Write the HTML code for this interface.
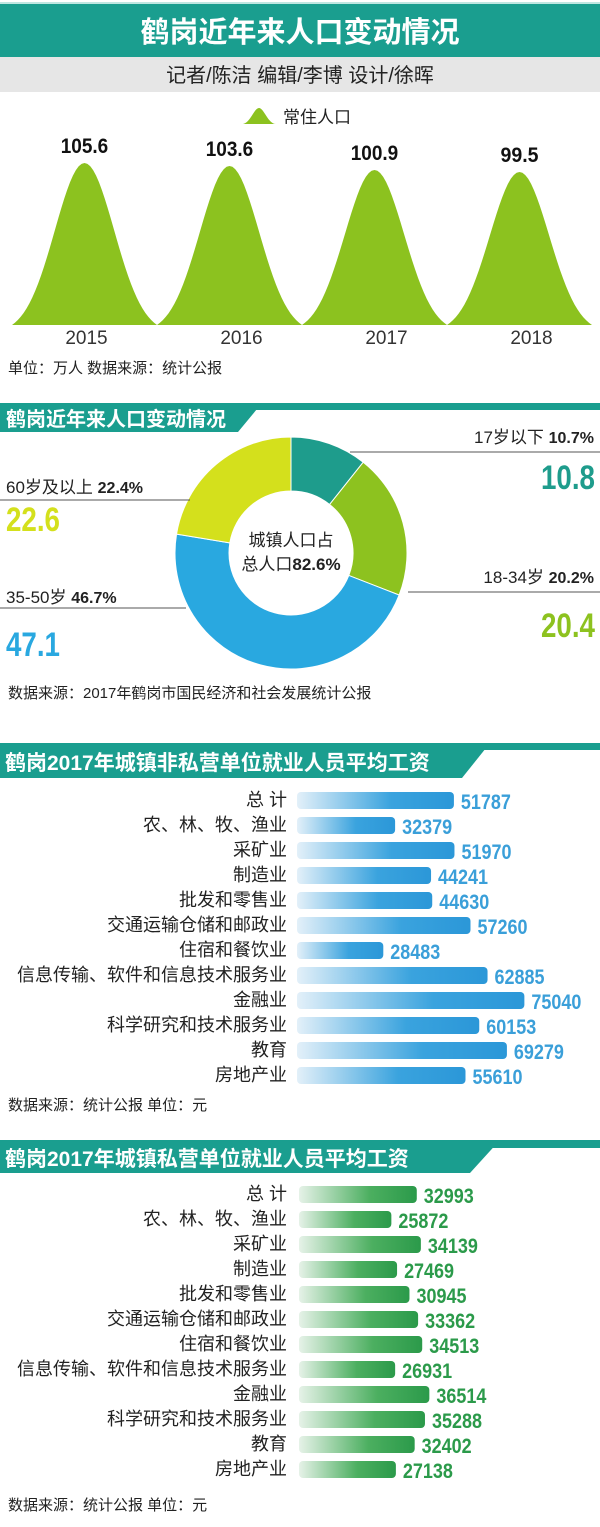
<!DOCTYPE html>
<html><head><meta charset="utf-8">
<style>
html,body{margin:0;padding:0;background:#fff;}
svg{display:block;}
text{font-family:"Liberation Sans","Noto Sans CJK SC",sans-serif;}
.num{font-family:"Liberation Sans Narrow","Liberation Sans","Noto Sans CJK SC",sans-serif;font-weight:bold;}
</style></head>
<body>
<svg id="chart" width="600" height="1527" viewBox="0 0 600 1527" xmlns="http://www.w3.org/2000/svg">
<defs>
<linearGradient id="gb" x1="0" x2="1" y1="0" y2="0"><stop offset="0" stop-color="#e3f0f9"/><stop offset="0.6" stop-color="#3aa3de"/><stop offset="1" stop-color="#2b97d8"/></linearGradient>
<linearGradient id="gg" x1="0" x2="1" y1="0" y2="0"><stop offset="0" stop-color="#e6f2e8"/><stop offset="0.6" stop-color="#4caf60"/><stop offset="1" stop-color="#2b9a4a"/></linearGradient>
</defs>
<rect x="0" y="2" width="600" height="2" fill="#bfe7e2"/>
<rect x="0" y="4" width="600" height="53" fill="#1a9e8f"/>
<text x="300" y="42" text-anchor="middle" font-size="29" font-weight="bold" fill="#fff">鹤岗近年来人口变动情况</text>
<rect x="0" y="57" width="600" height="35" fill="#e6e6e6"/>
<text x="300" y="82" text-anchor="middle" font-size="20" fill="#222">记者/陈洁 编辑/李博  设计/徐晖</text>
<path d="M242,124 C250,124 254,108 259,108 C264,108 268,124 276,124 Z" fill="#8cc21f"/>
<text x="283" y="123" font-size="17" fill="#222">常住人口</text>
<g id="peaks"></g>
<text x="8" y="373" font-size="15" fill="#222">单位：万人    数据来源：统计公报</text>

<g>
<rect x="0" y="403" width="600" height="7" fill="#1a9e8f"/>
<path d="M0,403 L262,403 L238,432 L0,432 Z" fill="#1a9e8f"/>
<text x="6" y="426" font-size="20" font-weight="bold" fill="#fff">鹤岗近年来人口变动情况</text>
</g>
<g id="donut"></g>
<text x="291" y="546" text-anchor="middle" font-size="17" fill="#222">城镇人口占</text>
<text x="291" y="570" text-anchor="middle" font-size="17" fill="#222">总人口<tspan class="num">82.6%</tspan></text>
<g id="donutLabels"></g>
<text x="8" y="698" font-size="15" fill="#222">数据来源：2017年鹤岗市国民经济和社会发展统计公报</text>

<g>
<rect x="0" y="743" width="600" height="7" fill="#1a9e8f"/>
<path d="M0,743 L490,743 L462,778 L0,778 Z" fill="#1a9e8f"/>
<text x="5" y="770" font-size="21" font-weight="bold" fill="#fff">鹤岗2017年城镇非私营单位就业人员平均工资</text>
</g>
<g id="bars1"></g>
<text x="8" y="1110" font-size="15" fill="#222">数据来源：统计公报   单位：元</text>

<g>
<rect x="0" y="1140" width="600" height="8" fill="#1a9e8f"/>
<path d="M0,1140 L500,1140 L470,1173 L0,1173 Z" fill="#1a9e8f"/>
<text x="5" y="1166" font-size="21" font-weight="bold" fill="#fff">鹤岗2017年城镇私营单位就业人员平均工资</text>
</g>
<g id="bars2"></g>
<text x="8" y="1510" font-size="15" fill="#222">数据来源：统计公报   单位：元</text>
</svg>
<script>
const years = ["2015","2016","2017","2018"];
const population = [105.6, 103.6, 100.9, 99.5];

const ageLabels = ["17岁以下","18-34岁","35-50岁","60岁及以上"];
const agePercents = [10.7, 20.2, 46.7, 22.4];
const ageValues = [10.8, 20.4, 47.1, 22.6];

const industries = ["总 计","农、林、牧、渔业","采矿业","制造业","批发和零售业","交通运输仓储和邮政业","住宿和餐饮业","信息传输、软件和信息技术服务业","金融业","科学研究和技术服务业","教育","房地产业"];
const publicWages = [51787,32379,51970,44241,44630,57260,28483,62885,75040,60153,69279,55610];
const privateWages = [32993,25872,34139,27469,30945,33362,34513,26931,36514,35288,32402,27138];

const NS="http://www.w3.org/2000/svg";
function mk(tag, attrs, parent){const e=document.createElementNS(NS,tag);for(const k in attrs)e.setAttribute(k,attrs[k]);parent.appendChild(e);return e;}
function narrow(el, str, cw){el.textContent=str;el.setAttribute('textLength',(str.length*cw).toFixed(1));el.setAttribute('lengthAdjust','spacingAndGlyphs');}

const base=325, x0=12, x1=592;
const slot=(x1-x0)/years.length;
function xPeak(i){return x0+slot*(i+0.5);}
function yPop(v){return base-1.475*(v+4.2);}
const pg=document.getElementById('peaks');
let d="M"+x0+","+base;
years.forEach((y,i)=>{
  const c=xPeak(i), top=yPop(population[i]), h=base-top;
  for(let s=0;s<=50;s++){
    const t=s/50, xx=c-slot/2+slot*t;
    const u=(t-0.5)*2;
    const g=Math.exp(-u*u*3.0), g0=Math.exp(-3.0);
    d+=" L"+xx.toFixed(1)+","+(base-h*(g-g0)/(1-g0)).toFixed(1);
  }
});
d+=" Z";
const pp=mk('path',{d:d,fill:'#8cc21f'},pg);


years.forEach((y,i)=>{
  const c=xPeak(i);
  const v=mk('text',{x:c,y:yPop(population[i])-10,'text-anchor':'middle','font-size':'21',fill:'#111',class:'num'},pg);
  narrow(v,population[i].toFixed(1),9.5);
  
  
  const t=mk('text',{x:c+(i===0?2:12),y:344,'text-anchor':'middle','font-size':'19',fill:'#333'},pg);
  t.textContent=y;
  
  
});

const cx=291, cy=553, R=116, r=62;
const colors=["#1e9c8c","#8dc21f","#29a8e0","#d4e01c"];
const dg=document.getElementById('donut');
const tot=agePercents.reduce((a,b)=>a+b,0);
let a0=-Math.PI/2;
agePercents.forEach((p,i)=>{
  const a1=a0+p/tot*Math.PI*2;
  const large=(a1-a0)>Math.PI?1:0;
  const P=(rad,a)=>[(cx+rad*Math.cos(a)).toFixed(2),(cy+rad*Math.sin(a)).toFixed(2)];
  const [ax,ay]=P(R,a0),[bx,by]=P(R,a1),[cx2,cy2]=P(r,a1),[dx,dy]=P(r,a0);
  const s=mk('path',{d:`M${ax},${ay} A${R},${R} 0 ${large} 1 ${bx},${by} L${cx2},${cy2} A${r},${r} 0 ${large} 0 ${dx},${dy} Z`,fill:colors[i],stroke:'#fff','stroke-width':'1'},dg);
  
  
  a0=a1;
});
const lg=document.getElementById('donutLabels');
const lpos=[{side:'r',ty:443,ly:452,lx:350,vy:489},{side:'r',ty:583,ly:592,lx:408,vy:637},{side:'l',ty:603,ly:608,lx:186,vy:656},{side:'l',ty:493,ly:500,lx:190,vy:531}];
ageLabels.forEach((lab,i)=>{
  const p=lpos[i];
  const ln=mk('line',{x1:p.side==='r'?p.lx:0,x2:p.side==='r'?600:p.lx,y1:p.ly,y2:p.ly,stroke:'#555','stroke-width':'1'},lg);
  
  
  const t=mk('text',{'font-size':'17',fill:'#222',y:p.ty},lg);
  
  
  if(p.side==='r'){t.setAttribute('x','594');t.setAttribute('text-anchor','end');}
  else{t.setAttribute('x','6');}
  t.innerHTML=lab+'  <tspan class="num" font-size="16">'+agePercents[i].toFixed(1)+'%</tspan>';
  const v=mk('text',{'font-size':'34',fill:colors[i],y:p.vy,class:'num'},lg);
  if(p.side==='r'){v.setAttribute('x','595');v.setAttribute('text-anchor','end');}else{v.setAttribute('x','6');}
  narrow(v,ageValues[i].toFixed(1),13.5);
  
  
});

function drawBars(gid, vals, x0b, scale, y0, pitch, grad, color){
  const g=document.getElementById(gid);
  const xs=v=>x0b+v*scale;
  industries.forEach((lab,i)=>{
    const yc=y0+i*pitch;
    const t=mk('text',{x:287,y:yc+6,'text-anchor':'end','font-size':'18',fill:'#222'},g);
    t.textContent=lab;
    
    
    const w=xs(vals[i])-x0b;
    const b=mk('rect',{x:x0b,y:yc-8,width:w,height:17,rx:4,fill:grad},g);
    
    
    const v=mk('text',{x:xs(vals[i])+7,y:yc+9,'font-size':'21',fill:color,class:'num'},g);
    narrow(v,String(vals[i]),10);
    
    
  });
}
drawBars('bars1',publicWages,297,0.00303,800,25,'url(#gb)','#3a9fd9');
drawBars('bars2',privateWages,299,0.00357,1194,25,'url(#gg)','#2b9a4a');
</script>
</body></html>
